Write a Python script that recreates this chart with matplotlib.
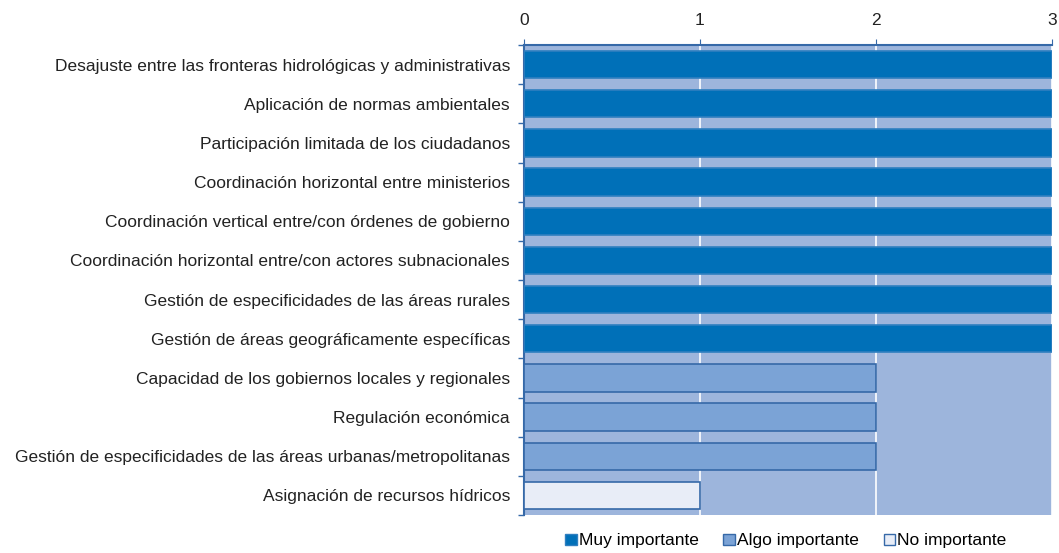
import matplotlib.pyplot as plt
import numpy as np

plt.rcParams['font.family'] = ['Liberation Sans', 'DejaVu Sans']

categorias = [
    'Desajuste entre las fronteras hidrológicas y administrativas',
    'Aplicación de normas ambientales',
    'Participación limitada de los ciudadanos',
    'Coordinación horizontal entre ministerios',
    'Coordinación vertical entre/con órdenes de gobierno',
    'Coordinación horizontal entre/con actores subnacionales',
    'Gestión de especificidades de las áreas rurales',
    'Gestión de áreas geográficamente específicas',
    'Capacidad de los gobiernos locales y regionales',
    'Regulación económica',
    'Gestión de especificidades de las áreas urbanas/metropolitanas',
    'Asignación de recursos hídricos',
]
valores = [3, 3, 3, 3, 3, 3, 3, 3, 2, 2, 2, 1]
nivel = ['Muy importante'] * 8 + ['Algo importante'] * 3 + ['No importante']

colores = {
    'Muy importante': ('#0070b8', '#2f7fc0'),
    'Algo importante': ('#7ba3d6', '#3669a8'),
    'No importante': ('#e8edf7', '#3669a8'),
}

fig = plt.figure(figsize=(10.59, 5.53), dpi=100)
ax = fig.add_axes([524 / 1059, 1 - 515 / 553, 528 / 1059, 470 / 553])

y = np.arange(len(categorias))
for i, (v, n) in enumerate(zip(valores, nivel)):
    fc, ec = colores[n]
    ax.barh(y[i], v, height=0.7, color=fc, edgecolor=ec, linewidth=1.2, zorder=3)

ax.set_facecolor('#9db5dc')
ax.set_xlim(0, 3)
ax.set_ylim(len(categorias) - 0.5, -0.5)
ax.xaxis.tick_top()
ax.set_xticks([0, 1, 2, 3])
ax.tick_params(axis='x', length=4, color='#3669a8', labelsize=12.5, labelcolor='#222222', pad=8)
ax.grid(True, axis='x', color='white', linewidth=1.2, zorder=1)

ax.set_yticks(y)
ax.set_yticklabels(categorias, fontsize=12.5, color='#222222')
ax.set_yticks(np.arange(len(categorias) + 1) - 0.5, minor=True)
ax.tick_params(axis='y', which='major', length=0, pad=10)
ax.tick_params(axis='y', which='minor', length=4, color='#3669a8', width=1)

for side in ['right', 'bottom']:
    ax.spines[side].set_visible(False)
ax.spines['top'].set_color('#3669a8')
ax.spines['top'].set_linewidth(1.5)
ax.spines['left'].set_color('#3669a8')
ax.spines['left'].set_linewidth(1.5)

handles = [plt.Rectangle((0, 0), 1, 1, facecolor=colores[n][0], edgecolor=colores[n][1])
           for n in colores]
fig.legend(handles, list(colores), loc='center', bbox_to_anchor=(786 / 1059, 1 - 541 / 553),
           ncol=3, frameon=False, fontsize=12.5, handlelength=0.65, handleheight=0.65,
           handletextpad=0.15, columnspacing=1.4, borderpad=0.2)

plt.savefig('out.png', dpi=100)
plt.close()
